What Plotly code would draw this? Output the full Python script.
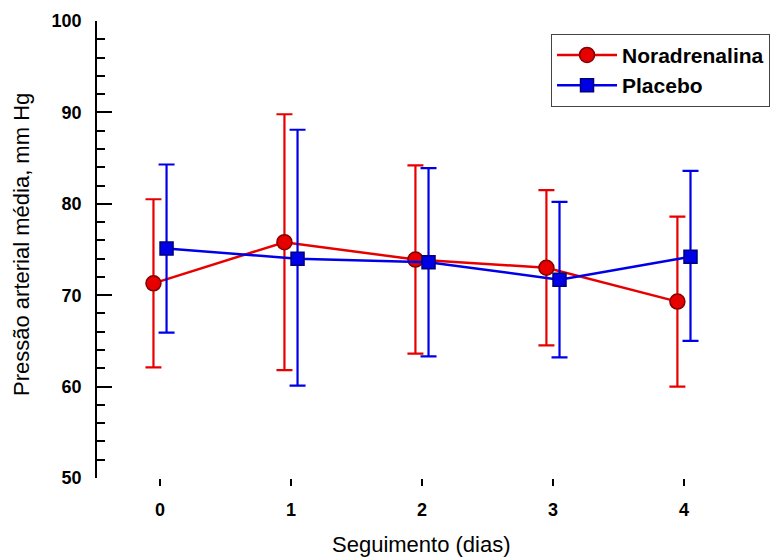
import plotly.graph_objects as go

days = [0, 1, 2, 3, 4]
x_ticks = ["0", "1", "2", "3", "4"]

nor_mean = [71.3, 75.8, 73.9, 73.0, 69.3]
nor_upper = [80.5, 89.8, 84.2, 81.5, 78.6]
nor_lower = [62.1, 61.8, 63.6, 64.5, 60.0]

pla_mean = [75.1, 74.0, 73.6, 71.7, 74.2]
pla_upper = [84.3, 88.1, 83.9, 80.2, 83.6]
pla_lower = [65.9, 60.1, 63.3, 63.2, 65.0]

offset = 0.05
red = "rgb(232,0,0)"
blue = "rgb(0,0,232)"

fig = go.Figure()
fig.add_trace(go.Scatter(
    x=[d - offset for d in days], y=nor_mean, name="Noradrenalina",
    mode="lines+markers",
    line=dict(color=red, width=2.5),
    marker=dict(symbol="circle", size=15, color="rgb(230,0,0)",
                line=dict(color="rgb(130,0,0)", width=1.5)),
    error_y=dict(type="data", symmetric=False,
                 array=[u - m for u, m in zip(nor_upper, nor_mean)],
                 arrayminus=[m - l for m, l in zip(nor_mean, nor_lower)],
                 color=red, thickness=2.2, width=8),
))
fig.add_trace(go.Scatter(
    x=[d + offset for d in days], y=pla_mean, name="Placebo",
    mode="lines+markers",
    line=dict(color=blue, width=2.5),
    marker=dict(symbol="square", size=13, color="rgb(0,0,230)",
                line=dict(color="rgb(0,0,120)", width=1.5)),
    error_y=dict(type="data", symmetric=False,
                 array=[u - m for u, m in zip(pla_upper, pla_mean)],
                 arrayminus=[m - l for m, l in zip(pla_mean, pla_lower)],
                 color=blue, thickness=2.2, width=8),
))

tick_font = dict(family="Liberation Sans, Arial, sans-serif", size=18, color="black", weight="bold")
title_font = dict(family="Liberation Sans, Arial, sans-serif", size=22, color="black")

fig.update_layout(
    width=778, height=558,
    margin=dict(l=97, r=0, t=21, b=80),
    paper_bgcolor="white", plot_bgcolor="white",
    showlegend=True,
    legend=dict(x=0.6667, y=0.972, xanchor="left", yanchor="top",
                bgcolor="white", bordercolor="#444", borderwidth=1,
                font=dict(family="Liberation Sans, Arial, sans-serif", size=21,
                          color="black", weight="bold"),
                itemwidth=60, tracegroupgap=0),
    xaxis=dict(range=[-0.481, 4.718], tickmode="array", tickvals=days, ticktext=x_ticks,
               showline=False, showgrid=False, zeroline=False,
               ticks="outside", ticklen=7, tickwidth=1.5, tickcolor="black",
               tickfont=tick_font, ticklabelstandoff=8),
    yaxis=dict(range=[50, 100], dtick=10, tick0=50,
               showline=True, linecolor="black", linewidth=1.8,
               showgrid=False, zeroline=False,
               ticks="inside", ticklen=15, tickwidth=1.8, tickcolor="black",
               minor=dict(dtick=2, ticks="inside", ticklen=8, tickwidth=1.5, tickcolor="black", showgrid=False),
               tickfont=tick_font, ticklabelstandoff=10),
    annotations=[
        dict(text="Seguimento (dias)", xref="x", yref="paper", x=2, y=-0.145,
             xanchor="center", yanchor="middle", showarrow=False, font=title_font),
        dict(text="Pressão arterial média, mm Hg", xref="paper", yref="paper",
             x=-0.1101, y=0.51, xanchor="center", yanchor="middle", textangle=-90,
             showarrow=False, font=title_font),
    ],
)

fig.write_html("out.html")
